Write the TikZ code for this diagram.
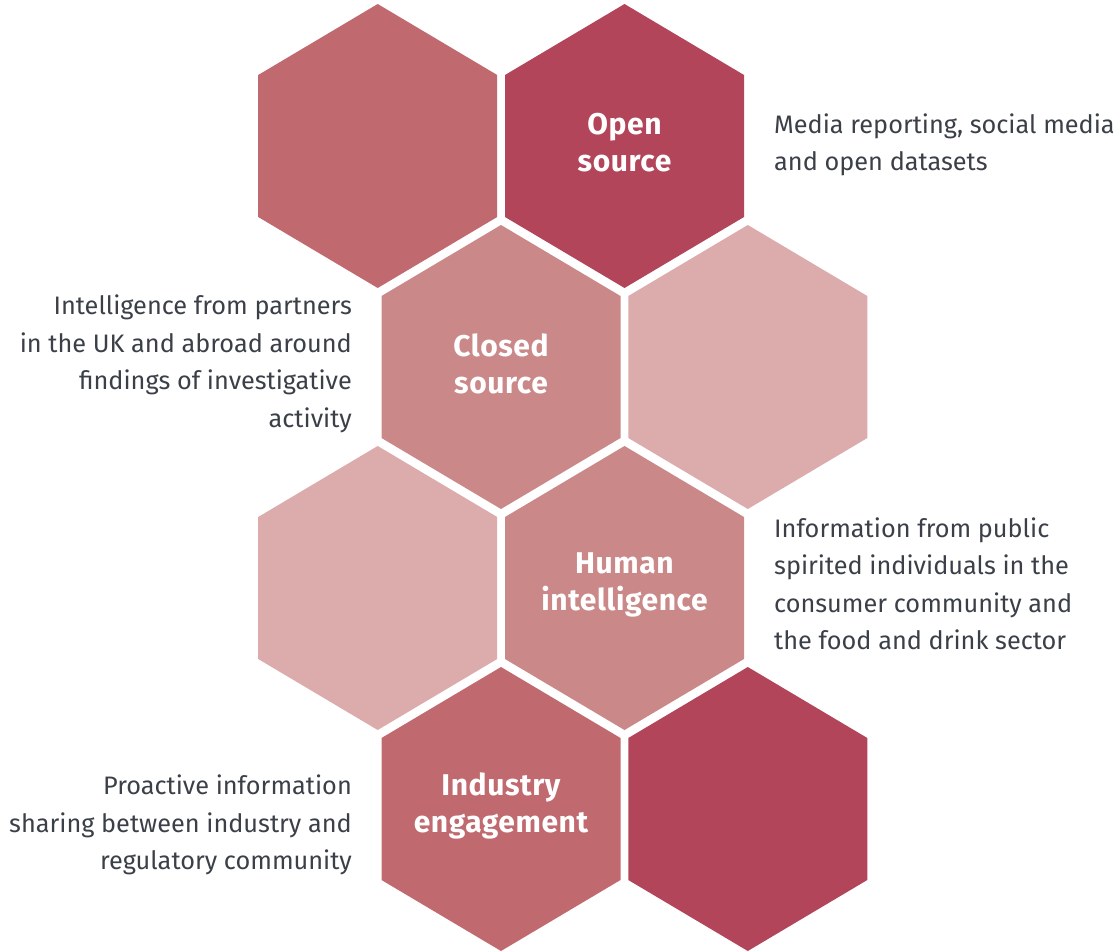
\documentclass[tikz,border=0pt]{standalone}
\usepackage{fontspec}
\setmainfont{Fira Sans}
\definecolor{hexA}{HTML}{C06A70}
\definecolor{hexB}{HTML}{B24559}
\definecolor{hexC}{HTML}{CB8889}
\definecolor{hexD}{HTML}{DCABAC}
\definecolor{txt}{HTML}{3B3F47}
\newcommand\hexat[3]{\fill[#3, shift={(#1,#2)}] (0,-142) -- (119.5,-71) -- (119.5,71) -- (0,142) -- (-119.5,71) -- (-119.5,-71) -- cycle;}
\tikzset{
  hexlabel/.style={text=white, font=\fontsize{30}{37}\selectfont\bfseries\addfontfeatures{LetterSpace=2}, align=center, inner sep=0pt},
  desc/.style={text=txt, font=\fontsize{25.3}{37.5}\selectfont, inner sep=0pt}
}
\begin{document}
\begin{tikzpicture}[x=1pt,y=-1pt]
\useasboundingbox (0,0) rectangle (1118,952);
\hexat{377.7}{146}{hexA}
\hexat{624.5}{146}{hexB}
\hexat{501}{367}{hexC}
\hexat{747.8}{367}{hexD}
\hexat{377.7}{588}{hexD}
\hexat{624.5}{588}{hexC}
\hexat{501}{809}{hexA}
\hexat{747.8}{809}{hexB}
\node[hexlabel] (open) at (624.5,143) {Open\\source};
\node[hexlabel] (closed) at (501,364) {Closed\\source};
\node[hexlabel] (human) at (624.5,585) {Human\\intelligence};
\node[hexlabel] (industry) at (501,806) {Industry\\engagement};
\node[desc, anchor=west, align=left] (dopen) at (774,145) {Media reporting, social media\\and open datasets};
\node[desc, anchor=east, align=right] (dclosed) at (352,364) {Intelligence from partners\\in the UK and abroad around\\findings of investigative\\activity};
\node[desc, anchor=west, align=left] (dhuman) at (774,584) {Information from public\\spirited individuals in the\\consumer community and\\the food and drink sector};
\node[desc, anchor=east, align=right] (dindustry) at (352,825) {Proactive information\\sharing between industry and\\regulatory community};
\end{tikzpicture}
\end{document}
